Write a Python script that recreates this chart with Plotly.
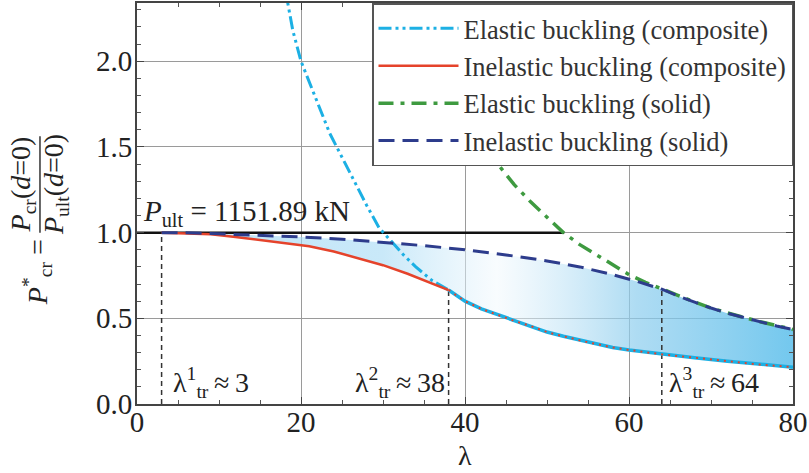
import plotly.graph_objects as go

# ---------------- data ----------------
lam_inel_comp = [3, 6, 9, 12, 15, 18, 21, 24, 27, 30, 33, 36, 38]
p_inel_comp = [1.0, 0.997, 0.99, 0.975, 0.958, 0.94, 0.92, 0.89, 0.85, 0.81, 0.76, 0.705, 0.665]

lam_el_comp = [18.0, 19, 20, 21, 22, 23.5, 25, 26.5, 28, 29.5, 31, 32.5, 34, 36, 38]
p_el_comp = [2.44, 2.18, 2.00, 1.88, 1.77, 1.58, 1.44, 1.30, 1.16, 1.03, 0.95, 0.87, 0.80, 0.72, 0.665]

lam_comp_tail = [38, 40, 42, 44, 46, 48, 50, 52, 55, 58, 60, 64, 68, 72, 76, 80]
p_comp_tail = [0.665, 0.60, 0.555, 0.52, 0.485, 0.455, 0.42, 0.395, 0.36, 0.33, 0.315, 0.29, 0.27, 0.25, 0.23, 0.215]

lam_inel_solid = [3, 6, 10, 15, 20, 25, 30, 35, 40, 45, 50, 54, 58, 61, 64, 66, 68, 70, 72, 74, 76, 78, 80]
p_inel_solid = [1.0, 0.999, 0.993, 0.985, 0.975, 0.962, 0.945, 0.924, 0.90, 0.87, 0.835, 0.80, 0.755,
                0.715, 0.67, 0.63, 0.595, 0.56, 0.53, 0.505, 0.48, 0.455, 0.435]

lam_el_solid = [34, 36, 38, 40, 42, 44, 46, 48, 50, 52, 54, 56, 58, 60, 62, 64, 66, 68, 70, 72, 74, 76, 78, 80]
p_el_solid = [2.35, 2.09, 1.88, 1.70, 1.54, 1.40, 1.28, 1.18, 1.09, 1.00, 0.93, 0.87, 0.81, 0.755, 0.71,
              0.67, 0.63, 0.595, 0.56, 0.53, 0.505, 0.48, 0.455, 0.435]

p_ult_kN = 1151.89
lam_ult_line = [0, 52.1]
p_ult_line = [1.0, 1.0]

lam_tr = [3, 38, 64]
p_tr = [1.0, 0.665, 0.67]
tr_label_shift = [9, -96, 5]   # pixel offsets of the labels from the dashed lines

x_ticks = [0, 20, 40, 60, 80]
y_ticks = [0.0, 0.5, 1.0, 1.5, 2.0]

names = ["Elastic buckling (composite)", "Inelastic buckling (composite)",
         "Elastic buckling (solid)", "Inelastic buckling (solid)"]

# ---------------- styles ----------------
FONT = "Liberation Serif, Times New Roman, serif"
C_CYAN = "#1cb0e4"
C_RED = "#e5432b"
C_GREEN = "#3e9a40"
C_NAVY = "#2d3c8c"
TXT = "#222222"

fig = go.Figure()

# gradient fill between the composite (lower) and solid (upper) inelastic curves
fill_x = lam_inel_solid + lam_comp_tail[::-1] + lam_inel_comp[::-1]
fill_y = p_inel_solid + p_comp_tail[::-1] + p_inel_comp[::-1]
fig.add_trace(go.Scatter(
    x=fill_x, y=fill_y, mode="lines", fill="toself", line=dict(width=0),
    fillgradient=dict(type="horizontal", start=3, stop=80, colorscale=[
        [0.0, "rgba(150,210,242,0.6)"],
        [0.35, "rgba(165,218,245,0.6)"],
        [0.53, "rgba(242,249,253,0.5)"],
        [0.75, "rgba(140,205,238,0.7)"],
        [1.0, "rgba(90,190,235,0.85)"]]),
    showlegend=False, hoverinfo="skip"))

# vertical dashed transition lines
for lt, pt in zip(lam_tr, p_tr):
    fig.add_trace(go.Scatter(x=[lt, lt], y=[0, pt], mode="lines",
                             line=dict(color="#333333", width=1.5, dash="5px,4px"),
                             showlegend=False, hoverinfo="skip"))

# ultimate load line
fig.add_trace(go.Scatter(x=lam_ult_line, y=p_ult_line, mode="lines",
                         line=dict(color="#111111", width=2.5),
                         showlegend=False, hoverinfo="skip"))

# composite tail (elastic = inelastic beyond lambda_tr^2)
fig.add_trace(go.Scatter(x=lam_comp_tail, y=p_comp_tail, mode="lines",
                         line=dict(color=C_CYAN, width=3.5),
                         showlegend=False, hoverinfo="skip"))

fig.add_trace(go.Scatter(x=lam_el_comp, y=p_el_comp, mode="lines", name=names[0],
                         line=dict(color=C_CYAN, width=3, dash="13px,4px,3px,4px,3px,4px"),
                         legendrank=1))
fig.add_trace(go.Scatter(x=lam_inel_comp, y=p_inel_comp, mode="lines", name=names[1],
                         line=dict(color=C_RED, width=2.5), legendrank=2))
fig.add_trace(go.Scatter(x=lam_el_solid, y=p_el_solid, mode="lines", name=names[2],
                         line=dict(color=C_GREEN, width=3.5, dash="15px,7px,4px,7px"),
                         legendrank=3))
fig.add_trace(go.Scatter(x=lam_inel_solid, y=p_inel_solid, mode="lines", name=names[3],
                         line=dict(color=C_NAVY, width=3, dash="16px,8px"), legendrank=4))

# red dotted overlay on the composite tail
fig.add_trace(go.Scatter(x=lam_comp_tail, y=p_comp_tail, mode="lines",
                         line=dict(color=C_RED, width=2, dash="2px,5px"),
                         showlegend=False, hoverinfo="skip"))

annotations = []
# P_ult label
annotations.append(dict(x=0, y=1.0, xref="x", yref="y", xanchor="left", yanchor="bottom",
                        xshift=4, yshift=0, showarrow=False,
                        text=f"<i>P</i><sub>ult</sub> = {p_ult_kN:.2f} kN",
                        font=dict(family=FONT, size=29, color=TXT)))

# transition labels
for i, (lt, sh) in enumerate(zip(lam_tr, tr_label_shift)):
    annotations.append(dict(x=lt, y=0.125, xref="x", yref="y", xanchor="left", yanchor="middle",
                            xshift=sh, showarrow=False,
                            text=f"λ<sup>{i + 1}</sup><sub>tr</sub>\u2009≈\u2009{lt}",
                            font=dict(family=FONT, size=28, color=TXT)))

# x-axis title
annotations.append(dict(x=40, y=-0.129, xref="x", yref="paper", xanchor="center", yanchor="middle",
                        showarrow=False, text="λ", font=dict(family=FONT, size=28, color=TXT)))

# y-axis title as a fraction
annotations.append(dict(x=-0.1517, y=0.33, xref="paper", yref="paper", xanchor="center",
                        yanchor="middle", textangle=-90, showarrow=False,
                        text="<i>P</i><sup>*</sup><sub>cr</sub> =",
                        font=dict(family=FONT, size=28, color=TXT)))
annotations.append(dict(x=-0.1750, y=0.548, xref="paper", yref="paper", xanchor="center",
                        yanchor="middle", textangle=-90, showarrow=False,
                        text="<i>P</i><sub>cr</sub>(<i>d</i>=0)",
                        font=dict(family=FONT, size=28, color=TXT)))
annotations.append(dict(x=-0.1250, y=0.546, xref="paper", yref="paper", xanchor="center",
                        yanchor="middle", textangle=-90, showarrow=False,
                        text="<i>P</i><sub>ult</sub>(<i>d</i>=0)",
                        font=dict(family=FONT, size=28, color=TXT)))

shapes = [dict(type="line", xref="paper", yref="paper", x0=-0.1479, x1=-0.1479, y0=0.4268, y1=0.6675,
               line=dict(color="#333333", width=1.5))]

axis_common = dict(
    showgrid=True, gridcolor="#9a9a9a", gridwidth=1, zeroline=False,
    showline=True, linecolor="#444444", linewidth=2, mirror="allticks",
    ticks="inside", ticklen=7, tickcolor="#444444", tickwidth=1,
    tickfont=dict(family=FONT, size=29, color=TXT),
)

fig.update_layout(
    width=809, height=473,
    margin=dict(l=137, r=15, t=1, b=69),
    paper_bgcolor="white", plot_bgcolor="white",
    xaxis=dict(range=[0, 80], tickvals=x_ticks, ticktext=[str(v) for v in x_ticks],
               ticklabelstandoff=-9,
               minor=dict(dtick=5, ticks="inside", ticklen=4, tickcolor="#555555", showgrid=False),
               **axis_common),
    yaxis=dict(range=[0, 2.34], tickvals=y_ticks, ticktext=[f"{v:.1f}" for v in y_ticks],
               ticklabelstandoff=-3,
               minor=dict(dtick=0.1, ticks="inside", ticklen=4, tickcolor="#555555", showgrid=False),
               **axis_common),
    legend=dict(x=1, xanchor="right", y=1, yanchor="top", bgcolor="white",
                bordercolor="#555555", borderwidth=1.5, itemwidth=80,
                font=dict(family=FONT, size=26.5, color="#333333"), traceorder="normal"),
    annotations=annotations, shapes=shapes,
    showlegend=True,
)

fig.write_html("out.html")
